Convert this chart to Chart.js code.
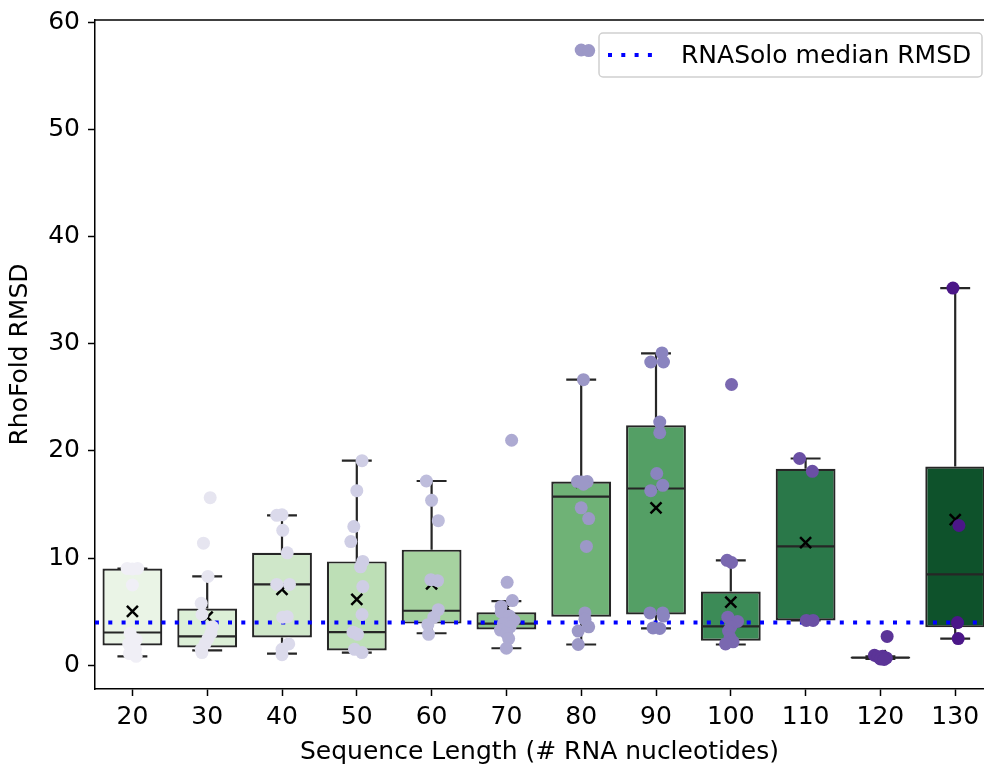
<!DOCTYPE html>
<html>
<head>
<meta charset="utf-8">
<script src="https://cdn.jsdelivr.net/npm/chart.js@4.4.1/dist/chart.umd.min.js"></script>
<style>
  html, body { margin: 0; padding: 0; background: #fff; overflow: hidden; }
  canvas { display: block; }
</style>
</head>
<body>
<canvas id="grafico" width="984" height="767"></canvas>
<script>
// categorias (comprimento da sequencia)
const seqLengths = ['20', '30', '40', '50', '60', '70', '80', '90', '100', '110', '120', '130']

// estatisticas das caixas
const whiskerLow  = [0.84, 1.4, 1.1, 1.2, 3.0, 1.6, 1.95, 3.45, 1.95, 4.2, 0.6, 2.5]
const q1          = [1.86, 1.68, 2.6, 1.4, 3.9, 3.35, 4.55, 4.75, 2.3, 4.2, 0.64, 3.55]
const medians     = [3.07, 2.7, 7.55, 3.1, 5.1, 3.9, 15.75, 16.5, 3.65, 11.1, 0.72, 8.5]
const q3          = [9.04, 5.3, 10.5, 9.7, 10.8, 4.95, 17.15, 22.4, 6.9, 18.35, 0.8, 18.55]
const whiskerHigh = [9.04, 8.3, 14.0, 19.1, 17.2, 6.0, 26.65, 29.1, 9.8, 19.3, 0.84, 35.2]
const means       = [5.03, 4.5, 7.1, 6.15, 7.6, 5.4, 17.1, 14.7, 5.9, 11.45, 0.9, 13.6]

// valores individuais (RMSD) por categoria
const rmsdPoints = [
    [9.05, 9.05, 9.0, 7.5, 3.0, 2.4, 2.0, 1.5, 1.1, 0.85],
    [15.65, 11.4, 8.3, 5.8, 4.75, 3.6, 3.0, 2.5, 2.0, 1.5, 1.2],
    [14.0, 14.05, 12.6, 10.5, 7.55, 7.55, 4.5, 4.55, 2.0, 1.5, 1.0],
    [19.1, 16.3, 12.95, 11.55, 9.7, 9.2, 7.35, 4.75, 3.1, 2.9, 1.5, 1.2],
    [17.2, 15.4, 13.5, 8.0, 7.9, 5.2, 4.5, 3.8, 2.9],
    [21.0, 7.75, 6.05, 5.5, 5.0, 4.6, 4.2, 3.9, 3.6, 3.3, 3.0, 2.5, 1.6],
    [57.4, 57.35, 26.65, 17.15, 17.1, 17.15, 16.9, 14.7, 13.7, 11.1, 4.9, 4.3, 3.6, 3.2, 1.95],
    [29.15, 28.3, 28.3, 22.7, 21.7, 17.9, 16.8, 16.3, 4.9, 4.9, 4.6, 3.5, 3.45],
    [26.2, 9.8, 9.6, 4.5, 4.1, 3.6, 3.2, 2.6, 2.2, 2.0],
    [19.3, 18.1, 4.2, 4.2],
    [2.7, 0.95, 0.85, 0.8, 0.7, 0.6, 0.55],
    [35.2, 13.05, 4.0, 2.5]
]
// deslocamento horizontal (jitter) de cada ponto
const pointJitter = [
    [-0.07, 0.07, 0, 0, -0.03, 0.05, -0.05, 0.04, -0.04, 0.05],
    [0.04, -0.05, 0.01, -0.08, -0.07, 0.07, 0.05, 0.01, -0.03, -0.08, -0.07],
    [-0.07, 0, 0.01, 0.07, -0.07, 0.1, 0.01, 0.07, 0.09, 0, 0],
    [0.07, 0, -0.04, -0.08, 0.08, 0.05, 0.08, 0.07, -0.05, 0.01, -0.03, 0.07],
    [-0.07, 0, 0.09, -0.01, 0.08, 0.09, 0.03, -0.05, -0.04],
    [0.07, 0.01, 0.08, -0.07, -0.07, 0.04, 0.1, -0.04, 0.05, -0.08, 0, 0.03, 0],
    [0, 0.1, 0.03, -0.05, 0.01, 0.08, 0.03, 0, 0.1, 0.07, 0.05, 0.05, 0.1, -0.04, -0.04],
    [0.08, -0.07, 0.1, 0.05, 0.05, 0.01, 0.09, -0.07, -0.08, 0.09, 0.1, -0.04, 0.05],
    [0.01, -0.05, 0.01, -0.04, 0.09, 0, -0.03, -0.01, 0.03, -0.07],
    [-0.08, 0.09, 0.01, 0.1],
    [0.09, -0.08, 0.03, -0.03, 0.08, 0, 0.05],
    [-0.03, 0.05, 0.03, 0.04]
]

const rnasoloMedian = 4.0
const yTicks = [0, 10, 20, 30, 40, 50, 60]

const boxColors = ['#eaf4e6', '#dcefd7', '#cfe7c9', '#bddfb6', '#a6d2a0', '#8bc388',
                   '#6fb276', '#549f65', '#3c8b57', '#2a7849', '#1b6739', '#0e522b']
const pointColors = ['#f0eff6', '#e6e5f0', '#dbdaeb', '#cfcee5', '#bebddc', '#adaad2',
                     '#9c98c7', '#8a84bf', '#7a68b0', '#6a4fa4', '#5b3497', '#4b1788']

const edgeColor = '#262626'

Chart.defaults.font.family = '"DejaVu Sans", sans-serif'
Chart.defaults.font.size = 25
Chart.defaults.color = '#000'

// pontos (strip plot)
const scatterData = []
const scatterColors = []
rmsdPoints.forEach((vals, i) => {
    vals.forEach((v, j) => {
        scatterData.push({ x: i + pointJitter[i][j], y: v })
        scatterColors.push(pointColors[i])
    })
})

// bigodes, medianas e medias desenhados sobre as caixas
const boxExtras = {
    id: 'boxExtras',
    afterDatasetDraw(chart, args) {
        if (args.index !== 0) return
        const { ctx } = chart
        const x = chart.scales.x
        const y = chart.scales.y
        ctx.save()
        ctx.strokeStyle = edgeColor
        ctx.lineWidth = 2.2
        seqLengths.forEach((_, i) => {
            const cx = x.getPixelForValue(i)
            const capL = x.getPixelForValue(i - 0.2)
            const capR = x.getPixelForValue(i + 0.2)
            const boxL = x.getPixelForValue(i - 0.4)
            const boxR = x.getPixelForValue(i + 0.4)
            const yLo = y.getPixelForValue(whiskerLow[i])
            const yHi = y.getPixelForValue(whiskerHigh[i])
            ctx.beginPath()
            ctx.moveTo(cx, y.getPixelForValue(q1[i]))
            ctx.lineTo(cx, yLo)
            ctx.moveTo(cx, y.getPixelForValue(q3[i]))
            ctx.lineTo(cx, yHi)
            ctx.moveTo(capL, yLo)
            ctx.lineTo(capR, yLo)
            ctx.moveTo(capL, yHi)
            ctx.lineTo(capR, yHi)
            const ym = y.getPixelForValue(medians[i])
            ctx.moveTo(boxL + 1, ym)
            ctx.lineTo(boxR - 1, ym)
            ctx.stroke()
        })
        // media (x)
        ctx.strokeStyle = '#000'
        ctx.lineWidth = 2.5
        seqLengths.forEach((_, i) => {
            const cx = x.getPixelForValue(i)
            const cy = y.getPixelForValue(means[i])
            const s = 5.5
            ctx.beginPath()
            ctx.moveTo(cx - s, cy - s)
            ctx.lineTo(cx + s, cy + s)
            ctx.moveTo(cx - s, cy + s)
            ctx.lineTo(cx + s, cy - s)
            ctx.stroke()
        })
        ctx.restore()
    }
}

// moldura superior e legenda
const frameAndLegend = {
    id: 'frameAndLegend',
    afterDraw(chart) {
        const { ctx, chartArea: a } = chart
        ctx.save()
        ctx.strokeStyle = '#000'
        ctx.lineWidth = 1.5
        ctx.beginPath()
        ctx.moveTo(a.left, a.top)
        ctx.lineTo(chart.width, a.top)
        ctx.stroke()

        const w = 383, h = 44
        const lx = chart.width - w - 2
        const ly = a.top + 13
        ctx.beginPath()
        ctx.roundRect(lx, ly, w, h, 4)
        ctx.fillStyle = 'rgba(255,255,255,0.8)'
        ctx.fill()
        ctx.strokeStyle = '#d0d0d0'
        ctx.lineWidth = 1.5
        ctx.stroke()

        ctx.beginPath()
        ctx.setLineDash([4, 9.3])
        ctx.strokeStyle = '#0000ff'
        ctx.lineWidth = 4
        ctx.moveTo(lx + 9, ly + 22)
        ctx.lineTo(lx + 56, ly + 22)
        ctx.stroke()
        ctx.setLineDash([])

        ctx.fillStyle = '#000'
        ctx.font = '25px "DejaVu Sans"'
        ctx.textBaseline = 'middle'
        ctx.textAlign = 'left'
        ctx.fillText('RNASolo median RMSD', lx + 82, ly + 23)
        ctx.restore()
    }
}

const ctxG = document.getElementById('grafico').getContext('2d')

const data = {
    datasets: [
        {
            type: 'bar',
            data: seqLengths.map((_, i) => ({ x: i, y: [q1[i], q3[i]] })),
            backgroundColor: boxColors,
            borderColor: edgeColor,
            borderWidth: 2.2,
            borderSkipped: false,
            barPercentage: 1,
            categoryPercentage: 0.8,
            order: 3
        },
        {
            type: 'line',
            label: 'RNASolo median RMSD',
            data: [{ x: -0.5, y: rnasoloMedian }, { x: seqLengths.length, y: rnasoloMedian }],
            borderColor: '#0000ff',
            borderWidth: 4,
            borderDash: [4, 9.3],
            pointRadius: 0,
            fill: false,
            order: 2
        },
        {
            type: 'scatter',
            data: scatterData,
            pointBackgroundColor: scatterColors,
            pointBorderWidth: 0,
            pointRadius: 6.5,
            pointHoverRadius: 6.5,
            order: 1
        }
    ]
}

const config = {
    type: 'bar',
    data,
    options: {
        responsive: false,
        animation: false,
        events: [],
        layout: { autoPadding: false, padding: { top: 20, left: 0, right: 0, bottom: 0 } },
        plugins: {
            legend: { display: false },
            tooltip: { enabled: false }
        },
        scales: {
            x: {
                type: 'linear',
                offset: false,
                min: -0.5,
                max: 11.385,
                afterBuildTicks: axis => { axis.ticks = seqLengths.map((_, i) => ({ value: i })) },
                afterFit: s => { s.height = 78; s.paddingLeft = 0; s.paddingRight = 0 },
                ticks: {
                    callback: v => seqLengths[v],
                    maxRotation: 0,
                    autoSkip: false,
                    padding: 6
                },
                grid: { offset: false, drawOnChartArea: false, drawTicks: true, tickLength: 7, tickWidth: 1.5, tickColor: '#000' },
                border: { display: true, color: '#000', width: 1.5 },
                title: { display: true, text: 'Sequence Length (# RNA nucleotides)', padding: { top: 4, bottom: 0 } }
            },
            y: {
                min: -2.2,
                max: 60.2,
                afterBuildTicks: axis => { axis.ticks = yTicks.map(v => ({ value: v })) },
                afterFit: s => { s.width = 95; s.paddingTop = 0; s.paddingBottom = 0 },
                ticks: { padding: 8 },
                grid: { drawOnChartArea: false, drawTicks: true, tickLength: 7, tickWidth: 1.5, tickColor: '#000' },
                border: { display: true, color: '#000', width: 1.5 },
                title: { display: true, text: 'RhoFold RMSD', padding: { top: 5, bottom: 4 } }
            }
        }
    },
    plugins: [boxExtras, frameAndLegend]
}

const meuGrafico = new Chart(ctxG, config)
</script>
</body>
</html>
